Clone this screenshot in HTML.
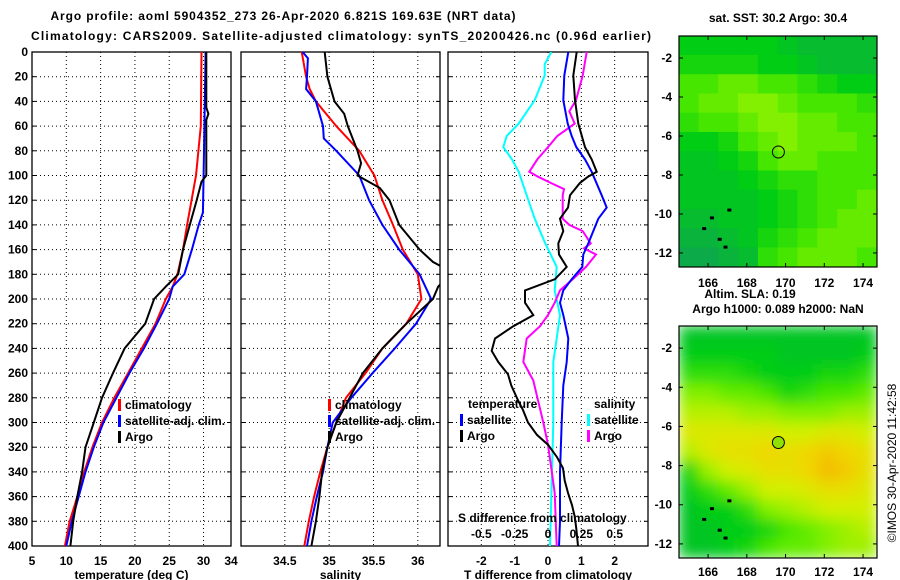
<!DOCTYPE html>
<html><head><meta charset="utf-8"><style>
html,body{margin:0;padding:0;background:#fff;}
svg{display:block;font-family:"Liberation Sans",sans-serif;}
.t{font-weight:bold;font-size:12px;fill:#000;}
</style></head><body>
<svg id="s" width="900" height="580" viewBox="0 0 900 580" xmlns="http://www.w3.org/2000/svg">
<defs>
<filter id="blur" x="0" y="0" width="1" height="1"><feGaussianBlur stdDeviation="7" edgeMode="duplicate"/></filter>
<clipPath id="cp1"><rect x="32" y="52" width="199" height="494"/></clipPath>
<clipPath id="cp2"><rect x="241" y="52" width="199" height="494"/></clipPath>
<clipPath id="cp3"><rect x="448" y="52" width="200" height="494"/></clipPath>
<clipPath id="cm1"><rect x="679" y="36" width="198" height="231"/></clipPath>
<clipPath id="cm2"><rect x="679" y="326" width="198" height="232"/></clipPath>
</defs>
<text class="t" x="283" y="20" text-anchor="middle" font-size="13.5" textLength="465">Argo profile: aoml 5904352_273 26-Apr-2020 6.821S 169.63E (NRT data)</text>
<text class="t" x="341" y="40" text-anchor="middle" font-size="13.5" textLength="620">Climatology: CARS2009. Satellite-adjusted climatology: synTS_20200426.nc (0.96d earlier)</text>
<g id="g"></g>
</svg>
<script>
// ---------- data ----------
var tempDepthClim=[0,60,100,140,160,180,190,200,220,240,260,280,300,320,340,360,380,400];
var tempClim=[29.7,29.6,28.9,27.6,27,26.2,25.5,24.5,23,21,19,17,15.2,13.8,12.6,11.6,10.5,9.8];
var tempDepthSat=[0,100,130,140,160,180,190,200,220,240,260,280,300,320,340,360,380,400];
var tempSat=[30.3,30,29.9,29.3,28.3,27.2,25.5,25,23.2,21.3,19.2,17.3,15.4,14,12.8,11.8,10.8,10];
var tempDepthArgo=[0,45,50,55,100,105,120,140,160,180,190,200,220,230,240,260,280,300,320,340,360,380,400];
var tempArgo=[30.4,30.4,30.7,30.4,30.4,29.7,29,28,27,26.3,24.5,22.8,21.5,20,18.5,16.8,15.2,14,12.8,12.3,11.6,11,10.6];

var salDepthClim=[0,20,30,40,60,80,100,120,140,160,180,200,220,240,260,280,300,320,340,360,380,400];
var salClim=[34.69,34.74,34.78,34.85,35.08,35.34,35.51,35.6,35.72,35.83,36.0,36.04,35.87,35.6,35.41,35.19,35.08,34.98,34.9,34.83,34.77,34.72];
var salDepthSat=[0,5,20,30,40,60,70,80,100,120,140,160,180,200,220,240,260,280,300,320,340,360,380,400];
var salSat=[34.7,34.76,34.75,34.74,34.85,34.93,34.94,35.08,35.34,35.45,35.6,35.79,36.02,36.15,35.98,35.74,35.49,35.25,35.04,34.98,34.93,34.86,34.8,34.75];
var salDepthArgo=[0,20,40,50,60,80,90,100,110,120,140,160,170,175,185,190,200,220,240,260,280,300,320,340,360,380,400];
var salArgo=[34.95,34.98,35.06,35.17,35.21,35.32,35.36,35.32,35.57,35.68,35.79,36.02,36.17,36.3,36.3,36.23,36.17,35.87,35.6,35.38,35.23,35.08,34.98,34.92,34.89,34.85,34.8];

var tdDepthSat=[0,19,39,58,68,77,87,97,116,126,135,155,164,174,184,193,203,213,232,251,270,300,340,380,400];
var tdSat=[0.61,0.49,0.46,0.59,0.71,0.85,1.11,1.31,1.61,1.76,1.51,1.21,1.06,1.03,0.71,0.46,0.36,0.46,0.61,0.56,0.46,0.41,0.36,0.36,0.33];
var tdDepthArgo=[0,19,39,58,77,87,97,101,106,116,126,135,145,155,164,174,184,193,203,213,222,232,242,251,261,270,282,290,300,310,318,328,337,347,357,367,376,386,400];
var tdArgo=[0.86,0.76,0.81,0.91,1.11,1.31,1.46,1.2,0.96,0.66,0.6,0.36,0.46,0.31,0.33,0.56,0.21,-0.69,-0.69,-0.44,-1.04,-1.59,-1.69,-1.49,-1.2,-1.1,-0.9,-0.75,-0.6,-0.33,0,0.27,0.45,0.5,0.6,0.72,0.8,0.85,0.9];
var sdDepthSat=[0,10,19,39,58,68,77,87,97,116,135,155,174,193,213,232,251,300,400];
var sdSat=[0.025,-0.025,-0.025,-0.1,-0.22,-0.31,-0.335,-0.27,-0.22,-0.16,-0.1,-0.02,0.065,0.05,0.09,0.065,0.04,0.04,0.015];
var sdDepthArgo=[0,19,39,48,58,68,77,87,97,101,106,111,116,126,135,140,145,155,159,164,174,184,193,203,213,222,232,251,266,282,300,318,337,357,400];
var sdArgo=[0.29,0.26,0.21,0.16,0.2,0.07,0,-0.08,-0.14,-0.075,0.02,0.12,0.11,0.11,0.11,0.16,0.26,0.32,0.27,0.36,0.285,0.185,0.09,0.05,0,-0.06,-0.16,-0.185,-0.11,-0.075,-0.035,0,0.025,0.05,0.065];

var depthTicks=[0,20,40,60,80,100,120,140,160,180,200,220,240,260,280,300,320,340,360,380,400];
var tempTicks=[5,10,15,20,25,30,34];
var salTicks=[34.5,35,35.5,36];
var salTickLabels=["34.5","35","35.5","36"];
var tdTicks=[-2,-1,0,1,2];
var sdTicks=[-0.5,-0.25,0,0.25,0.5];
var sdTickLabels=["-0.5","-0.25","0","0.25","0.5"];

var lonTicks=[166,168,170,172,174];
var latTicks=[-2,-4,-6,-8,-10,-12];
var argoLon=169.63, argoLat=-6.82;
var sstGrid=[
[0.3,0.3,0.3,0.3,0.3,0.25,0.2,0.2,0.2,0.2],
[0.35,0.35,0.35,0.35,0.3,0.3,0.25,0.2,0.2,0.2],
[0.45,0.45,0.5,0.5,0.45,0.45,0.4,0.35,0.3,0.3],
[0.45,0.5,0.5,0.55,0.55,0.5,0.45,0.45,0.45,0.4],
[0.4,0.45,0.45,0.5,0.55,0.55,0.5,0.5,0.45,0.45],
[0.3,0.3,0.35,0.45,0.5,0.55,0.5,0.5,0.5,0.45],
[0.25,0.25,0.3,0.35,0.45,0.5,0.5,0.45,0.45,0.45],
[0.25,0.25,0.25,0.3,0.35,0.4,0.4,0.45,0.45,0.45],
[0.25,0.25,0.25,0.25,0.3,0.35,0.4,0.45,0.45,0.5],
[0.2,0.2,0.25,0.25,0.3,0.35,0.4,0.45,0.5,0.5],
[0.15,0.15,0.2,0.25,0.35,0.4,0.45,0.5,0.5,0.5],
[0.1,0.1,0.15,0.2,0.4,0.45,0.5,0.5,0.5,0.45]];
var slaGrid=[
[0.25,0.25,0.25,0.25,0.25,0.25,0.25,0.25,0.25,0.25],
[0.3,0.3,0.3,0.3,0.3,0.25,0.25,0.25,0.25,0.3],
[0.4,0.4,0.4,0.35,0.3,0.3,0.3,0.35,0.35,0.4],
[0.55,0.55,0.5,0.5,0.45,0.35,0.4,0.45,0.45,0.5],
[0.65,0.65,0.65,0.6,0.6,0.55,0.55,0.55,0.6,0.6],
[0.75,0.75,0.75,0.75,0.75,0.7,0.7,0.75,0.75,0.7],
[0.65,0.75,0.8,0.8,0.85,0.8,0.85,0.9,0.85,0.8],
[0.35,0.6,0.7,0.75,0.8,0.8,0.85,0.95,0.9,0.8],
[0.3,0.4,0.5,0.6,0.7,0.7,0.75,0.8,0.8,0.75],
[0.25,0.3,0.3,0.4,0.55,0.6,0.65,0.7,0.7,0.7],
[0.25,0.25,0.3,0.3,0.35,0.45,0.5,0.55,0.6,0.65],
[0.25,0.25,0.3,0.35,0.45,0.5,0.5,0.55,0.6,0.6]];

// ---------- drawing ----------
var NS="http://www.w3.org/2000/svg";
var G=document.getElementById('g');
function el(tag,attrs,parent){var e=document.createElementNS(NS,tag);for(var k in attrs)e.setAttribute(k,attrs[k]);(parent||G).appendChild(e);return e;}
function txt(x,y,s,anchor,parent,size,bold){var e=el('text',{x:x,y:y,'text-anchor':anchor||'middle','font-size':size||12,'font-weight':bold===false?'normal':'bold'},parent);e.textContent=s;return e;}
var top0=52,bot0=546;
function yD(d){return top0+d/400*(bot0-top0);}
function xT(v){return 32+(v-5)/(34-5)*199;}
function xS(v){return 240.5+(v-34)/(36.25-34)*199.5;}
function xTD(v){return 548+v*33.33;}
function xSD(v){return 548+v*4*33.33;}

function panel(name,x0,x1,xf,xticks,xlabels,title,showY,clip){
  var g=el('g',{});
  
  
  depthTicks.forEach(function(d){
    if(d>0&&d<400){var l=el('line',{x1:x0,x2:x1,y1:yD(d),y2:yD(d),stroke:'#000','stroke-width':1,'stroke-dasharray':'1,3'},g);
    
    }
    el('line',{x1:x0,x2:x0+4,y1:yD(d),y2:yD(d),stroke:'#000'},g);
    el('line',{x1:x1-4,x2:x1,y1:yD(d),y2:yD(d),stroke:'#000'},g);
    if(showY){var t=txt(28,yD(d)+4,String(d),'end',g);
    
    }
  });
  xticks.forEach(function(v,i){
    var px=xf(v);
    if(px>x0+1&&px<x1-1){var l=el('line',{x1:px,x2:px,y1:top0,y2:bot0,stroke:'#000','stroke-dasharray':'1,3'},g);
    
    }
    if(xlabels){var t=txt(px,565,xlabels[i],'middle',g);
    
    }
  });
  var r=el('rect',{x:x0,y:top0,width:x1-x0,height:bot0-top0,fill:'none',stroke:'#000','stroke-width':1.3},g);
  
  
  var tt=txt((x0+x1)/2,579,title,'middle',g);
  
  
  return g;
}
function series(name,depths,vals,xf,color,clip){
  var pts=depths.map(function(d,i){return xf(vals[i]).toFixed(1)+','+yD(d).toFixed(1);}).join(' ');
  var p=el('polyline',{points:pts,fill:'none',stroke:color,'stroke-width':2,'clip-path':'url(#'+clip+')'});
  
  
}
function legend(items,x,y0,pname){
  items.forEach(function(it,i){
    var y=y0+i*16;
    var m=el('rect',{x:x,y:y-10,width:3,height:12,fill:it[1]});
    
    
    var t=txt(x+7,y,it[0],'start');
    
    
  });
}

panel('temperature-panel',32,231,xT,tempTicks,tempTicks.map(String),'temperature (deg C)',true);
series('temperature-climatology-line',tempDepthClim,tempClim,xT,'#ff0000','cp1');
series('temperature-satellite-line',tempDepthSat,tempSat,xT,'#0000ff','cp1');
series('temperature-argo-line',tempDepthArgo,tempArgo,xT,'#000000','cp1');
legend([['climatology','#ff0000'],['satellite-adj. clim.','#0000ff'],['Argo','#000']],118,409,'temperature');

panel('salinity-panel',241,440,xS,salTicks,salTickLabels,'salinity',false);
series('salinity-climatology-line',salDepthClim,salClim,xS,'#ff0000','cp2');
series('salinity-satellite-line',salDepthSat,salSat,xS,'#0000ff','cp2');
series('salinity-argo-line',salDepthArgo,salArgo,xS,'#000000','cp2');
legend([['climatology','#ff0000'],['satellite-adj. clim.','#0000ff'],['Argo','#000']],328,409,'salinity');

panel('difference-panel',448,648,xTD,tdTicks,tdTicks.map(String),'T difference from climatology',false);
series('salinity-diff-satellite-line',sdDepthSat,sdSat,xSD,'#00ffff','cp3');
series('salinity-diff-argo-line',sdDepthArgo,sdArgo,xSD,'#ff00ff','cp3');
series('temperature-diff-satellite-line',tdDepthSat,tdSat,xTD,'#0000ff','cp3');
series('temperature-diff-argo-line',tdDepthArgo,tdArgo,xTD,'#000000','cp3');
(function(){
  var t=txt(468,408,'temperature','start');
  
  
  t=txt(594,408,'salinity','start');
  
  
  legend([['satellite','#0000ff'],['Argo','#000']],460,424,'tdiff');
  legend([['satellite','#00ffff'],['Argo','#ff00ff']],587,424,'sdiff');
  t=txt(458,522,'S difference from climatology','start');
  
  
  sdTicks.forEach(function(v,i){
    var tl=txt(xSD(v),538,sdTickLabels[i],'middle');
    
    
  });
})();

// ---------- maps ----------
function col(v){
  var st=[[0,[16,150,100]],[0.15,[10,180,60]],[0.3,[0,205,20]],[0.45,[70,230,0]],[0.55,[130,240,0]],[0.7,[210,240,0]],[0.85,[240,215,0]],[1,[245,175,0]]];
  for(var i=1;i<st.length;i++){if(v<=st[i][0]){var a=st[i-1],b=st[i],f=(v-a[0])/(b[0]-a[0]);
    return 'rgb('+a[1].map(function(c,k){return Math.round(c+(b[1][k]-c)*f);}).join(',')+')';}}
  return 'rgb(245,175,0)';
}
function map(name,grid,mx0,my0,mx1,my1,clip,smooth,titleLines,titleY,lonY){
  var g=el('g',{});
  
  
  var lon0=164.5,lon1=174.72,lat0=-0.87,lat1=-12.72;
  function mx(lon){return mx0+(lon-lon0)/(lon1-lon0)*(mx1-mx0);}
  function my(lat){return my0+(lat-lat0)/(lat1-lat0)*(my1-my0);}
  var cg=el('g',{'clip-path':'url(#'+clip+')'},g);
  var hg=el('g',smooth?{filter:'url(#blur)'}:{},cg);
  var rows=grid.length,cols=grid[0].length;
  var cw=(mx1-mx0)/cols,ch=(my1-my0)/rows;
  grid.forEach(function(row,r){row.forEach(function(v,c){
    var rc=el('rect',{x:mx0+c*cw-0.3,y:my0+r*ch-0.3,width:cw+0.6,height:ch+0.6,fill:col(v)},hg);
    
    
  });});
  // islands
  [[165.8,-10.75],[166.6,-11.3],[166.9,-11.7],[166.2,-10.2],[167.1,-9.8]].forEach(function(p){
    el('rect',{x:mx(p[0])-2,y:my(p[1])-1.5,width:4,height:3,fill:'#000'},cg);
  });
  var c=el('circle',{cx:mx(argoLon),cy:my(argoLat),r:6,fill:smooth?'#90e000':'none',stroke:'#000','stroke-width':1},g);
  
  
  el('rect',{x:mx0,y:my0,width:mx1-mx0,height:my1-my0,fill:'none',stroke:'#000','stroke-width':1.2},g);
  latTicks.forEach(function(l){
    el('line',{x1:mx0,x2:mx0+4,y1:my(l),y2:my(l),stroke:'#000'},g);
    el('line',{x1:mx1-4,x2:mx1,y1:my(l),y2:my(l),stroke:'#000'},g);
    var t=txt(mx0-7,my(l)+4,String(l),'end',g);
    
    
  });
  lonTicks.forEach(function(l){
    el('line',{x1:mx(l),x2:mx(l),y1:my0,y2:my0+4,stroke:'#000'},g);
    el('line',{x1:mx(l),x2:mx(l),y1:my1-4,y2:my1,stroke:'#000'},g);
    var t=txt(mx(l),lonY,String(l),'middle',g);
    
    
  });
  titleLines.forEach(function(s,i){
    var t=txt(s[1],titleY[i],s[0],'middle',g);
    
    
  });
}
map('sst-map',sstGrid,679,36,877,267,'cm1',false,[['sat. SST: 30.2 Argo: 30.4',778]],[22],287);
map('sla-map',slaGrid,679,326,877,558,'cm2',true,[['Altim. SLA: 0.19',750],['Argo h1000: 0.089 h2000: NaN',778]],[298,313],576);
var side=el('text',{x:0,y:0,'text-anchor':'middle','font-size':12,transform:'translate(896,463) rotate(-90)'});
side.textContent='©IMOS 30-Apr-2020 11:42:58';


</script>
</body></html>
